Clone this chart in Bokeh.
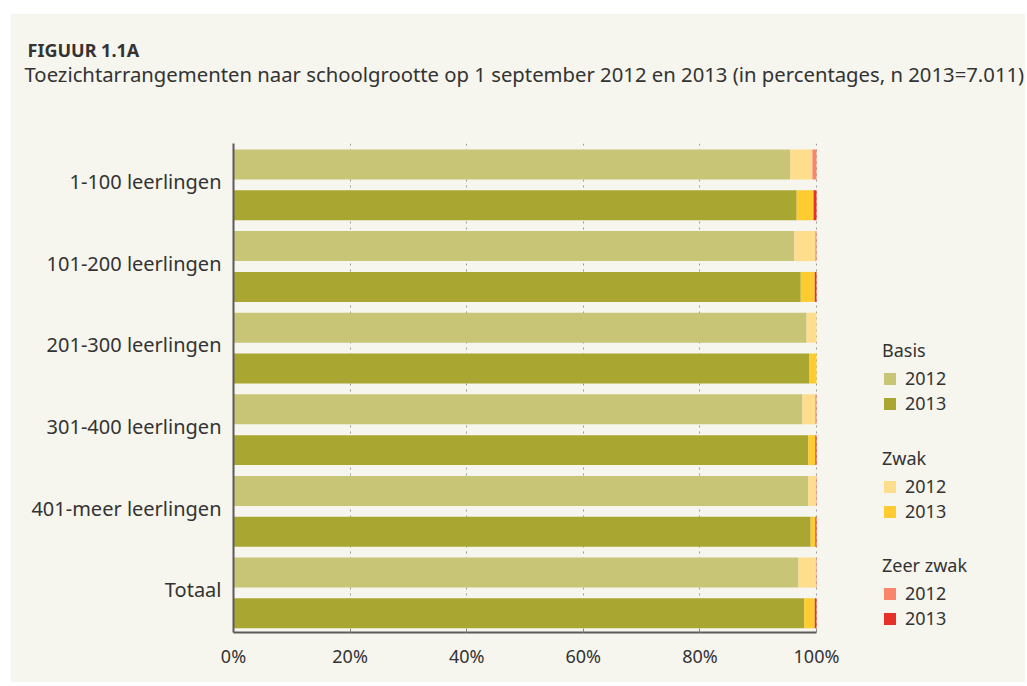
from bokeh.plotting import figure
from bokeh.models import Range1d, FixedTicker, Legend, LegendItem, Title, ColumnDataSource, LinearAxis
from bokeh.embed import file_html
from bokeh.resources import INLINE

groups = ["1-100 leerlingen", "101-200 leerlingen", "201-300 leerlingen",
          "301-400 leerlingen", "401-meer leerlingen", "Totaal"]
years = ["2012", "2013"]
categories = ["Basis", "Zwak", "Zeer zwak"]

basis_2012 = [95.5, 96.2, 98.3, 97.6, 98.6, 96.9]
zwak_2012 = [3.8, 3.6, 1.7, 2.2, 1.3, 3.0]
zeer_2012 = [0.7, 0.2, 0.0, 0.2, 0.1, 0.1]
basis_2013 = [96.6, 97.3, 98.8, 98.6, 99.0, 97.9]
zwak_2013 = [2.9, 2.4, 1.2, 1.2, 0.8, 1.8]
zeer_2013 = [0.5, 0.3, 0.0, 0.2, 0.2, 0.3]

x_ticks = [0, 20, 40, 60, 80, 100]
x_tick_labels = ["0%", "20%", "40%", "60%", "80%", "100%"]

title_text = "FIGUUR 1.1A"
subtitle_text = "Toezichtarrangementen naar schoolgrootte op 1 september 2012 en 2013 (in percentages, n 2013=7.011)"

BG = "#f6f5ee"
TXT = "#333333"
FONT = "Noto Sans"
colors_2012 = ["#c9c576", "#fedd8d", "#f7866a"]
colors_2013 = ["#aaa632", "#fecb30", "#e8302a"]

W = 1015
n = len(groups)

src12 = ColumnDataSource(dict(y=[2 * i for i in range(n)], basis=basis_2012, zwak=zwak_2012, zeer=zeer_2012))
src13 = ColumnDataSource(dict(y=[2 * i + 1 for i in range(n)], basis=basis_2013, zwak=zwak_2013, zeer=zeer_2013))

left_b, right_b = 223, 4
frame_w = W - left_b - right_b
x_end = 100 * frame_w / 583.0

p = figure(width=W, height=669, output_backend="svg", toolbar_location=None,
           x_range=Range1d(0, x_end), y_range=Range1d(2 * n - 0.53, -0.515),
           min_border_left=left_b, min_border_right=right_b, min_border_top=130, min_border_bottom=50,
           background_fill_color=BG, border_fill_color=BG, outline_line_color=None,
           margin=(13, 0, 0, 10))

# empty spacer between subtitle and plot area (added first: closest to the frame)
spacer = LinearAxis(ticker=FixedTicker(ticks=[x_ticks[2]]), major_label_overrides={x_ticks[2]: ""},
                    major_tick_out=58, major_tick_in=0, minor_tick_out=0, minor_tick_in=0,
                    major_label_standoff=0, major_label_text_font_size="1px",
                    major_tick_line_color=None, minor_tick_line_color=None, axis_line_color=None)
p.add_layout(spacer, "above")

# outer title (farthest from the frame)
p.title.text = title_text
p.title.align = "left"
p.title.offset = -206
p.title.standoff = -5
p.title.text_font = FONT
p.title.text_font_size = "18px"
p.title.text_font_style = "bold"
p.title.text_color = TXT
# subtitle
p.add_layout(Title(text=subtitle_text, align="left", offset=-209, standoff=-4, text_font=FONT,
                   text_font_size="20.3px", text_font_style="normal", text_color=TXT), "above")

r12 = p.hbar_stack(["basis", "zwak", "zeer"], y="y", height=0.735, source=src12,
                   fill_color=colors_2012, line_color=None)
r13 = p.hbar_stack(["basis", "zwak", "zeer"], y="y", height=0.735, source=src13,
                   fill_color=colors_2013, line_color=None)

xa = p.below[0]
xa.ticker = FixedTicker(ticks=x_ticks)
xa.bounds = (x_ticks[0], x_ticks[-1])
xa.major_label_overrides = {tk: lb for tk, lb in zip(x_ticks, x_tick_labels)}
xa.major_label_text_font = FONT
xa.major_label_text_font_size = "18px"
xa.major_label_text_color = TXT
xa.major_label_standoff = 11
xa.major_tick_in = 4
xa.major_tick_out = 0
xa.major_tick_line_color = "#888888"
xa.minor_tick_line_color = None
xa.axis_line_color = "#5a5a5a"
xa.axis_line_width = 2

y_ticks = [2 * i + 0.42 for i in range(n)]
ya = p.left[0]
ya.ticker = FixedTicker(ticks=y_ticks)
ya.major_label_overrides = {tk: g for tk, g in zip(y_ticks, groups)}
ya.major_label_text_font = FONT
ya.major_label_text_font_size = "20px"
ya.major_label_text_color = TXT
ya.major_label_standoff = 12
ya.major_tick_in = 0
ya.major_tick_out = 0
ya.major_tick_line_color = None
ya.minor_tick_line_color = None
ya.axis_line_color = "#5a5a5a"
ya.axis_line_width = 2

p.xgrid.ticker = FixedTicker(ticks=x_ticks)
p.xgrid.grid_line_color = "#9a9a9a"
p.xgrid.grid_line_dash = "2 4"
p.xgrid.grid_line_width = 1
p.ygrid.visible = False

leg_y = [217, 109, 2]
for k, cat in enumerate(categories):
    leg = Legend(items=[LegendItem(label=years[0], renderers=[r12[k]]),
                        LegendItem(label=years[1], renderers=[r13[k]])],
                 location=(649, leg_y[k]), title=cat,
                 title_text_font=FONT, title_text_font_size="18px", title_text_font_style="normal",
                 title_text_color=TXT, title_standoff=4,
                 label_text_font=FONT, label_text_font_size="18px", label_text_color=TXT,
                 glyph_width=15, glyph_height=15, label_standoff=8, label_height=20,
                 spacing=1, padding=0, margin=0, border_line_color=None,
                 background_fill_alpha=0)
    p.add_layout(leg, "center")

open("out.html", "w").write(file_html(p, INLINE))
